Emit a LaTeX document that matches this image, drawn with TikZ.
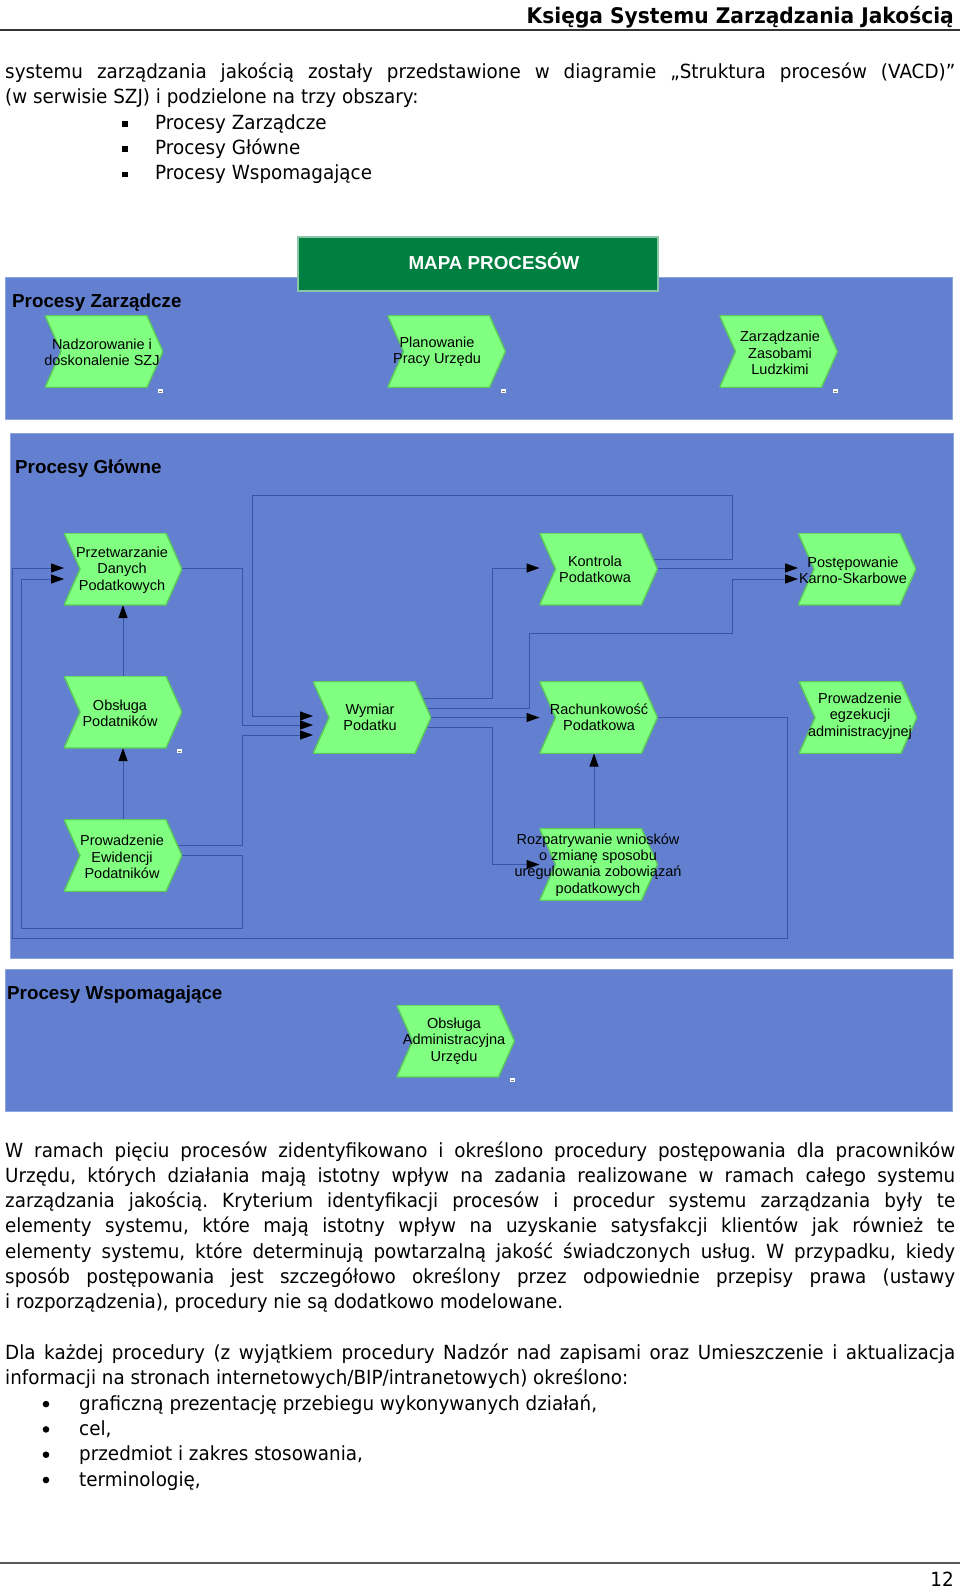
\documentclass[tikz,border=0pt]{standalone}
\usepackage{fontspec}
\setmainfont{DejaVu Sans}[FakeStretch=0.94]
\newfontfamily\arialfont{Liberation Sans}
\usetikzlibrary{calc,arrows.meta}
\pgfdeclarelayer{back}
\pgfdeclarelayer{wires}
\pgfsetlayers{back,wires,main}
\frenchspacing

\definecolor{areablue}{RGB}{98,128,207}
\definecolor{areaedge}{RGB}{140,165,225}
\definecolor{procgreen}{RGB}{128,255,128}
\definecolor{procedge}{RGB}{90,200,90}
\definecolor{mapgreen}{RGB}{0,128,64}
\definecolor{wireblue}{RGB}{58,84,165}

\newcommand\jline[1]{\makebox[950pt][s]{#1}}

\begin{document}
\begin{tikzpicture}[x=1pt,y=-1pt,
  area/.style={fill=areablue, draw=areaedge, line width=1pt},
  proc/.style={minimum width=118pt, minimum height=72pt, inner sep=0pt, outer sep=0pt,
    path picture={\filldraw[fill=procgreen, draw=procedge, line width=1.4pt]
      (path picture bounding box.north west) -- ([xshift=-16pt]path picture bounding box.north east)
      -- (path picture bounding box.east) -- ([xshift=-16pt]path picture bounding box.south east)
      -- (path picture bounding box.south west) -- ([xshift=16pt]path picture bounding box.west) -- cycle;}},
  ptxt/.style={font=\arialfont\fontsize{14.5}{16.3}\selectfont, align=center, inner sep=0pt},
  head/.style={font=\arialfont\bfseries\fontsize{18.8}{22}\selectfont, anchor=west, inner sep=0pt},
  wire/.style={draw=wireblue, line width=1pt},
  flow/.style={wire, -{Triangle[length=13pt,width=9pt,color=black]}},
  txt/.style={anchor=base west, inner sep=0pt, font=\fontsize{19.5}{25.3}\selectfont}
]
\useasboundingbox (0,0) rectangle (960,1588);

% page head
\node[anchor=base east, inner sep=0pt, font=\bfseries\fontsize{21.5}{25}\selectfont] (kstitle) at (954,23) {Księga Systemu Zarządzania Jakością};
\draw[line width=2.5pt, black!80] (0,30) -- (960,30);

\node[txt] (p1a) at (5,78.5) {\jline{systemu zarządzania jakością zostały przedstawione w diagramie „Struktura procesów (VACD)”}};
\node[txt] (p1b) at (5,103.8) {(w serwisie SZJ) i podzielone na trzy obszary:};
\node[txt] (b1) at (155,129.1) {Procesy Zarządcze};
\node[txt] (b2) at (155,154.4) {Procesy Główne};
\node[txt] (b3) at (155,179.7) {Procesy Wspomagające};
\foreach \by in {129.1,154.4,179.7}
  \fill (122,\by-8) rectangle (127.5,\by-2.5);

% areas
\begin{pgfonlayer}{back}
\filldraw[area] (5,277) rectangle (952,419);
\filldraw[area] (10,433) rectangle (953,958);
\filldraw[area] (5,969) rectangle (952,1111);
\end{pgfonlayer}

\node[fill=mapgreen, draw=mapgreen!45!white, line width=1.5pt, minimum width=360pt, minimum height=54pt, inner sep=0pt] (mapa) at (478,264) {};
\node[font=\arialfont\bfseries\fontsize{18.8}{22}\selectfont, text=white, inner sep=0pt] (mapa-t) at (494,261) {MAPA PROCESÓW};

\node[head] (zarz) at (12,302.5) {Procesy Zarządcze};
\node[head] (glow) at (15,468.5) {Procesy Główne};
\node[head] (wspo) at (7,994.5) {Procesy Wspomagające};

% Procesy Zarzadcze
\node[proc] (nadz) at (104,351.5) {};
\node[ptxt] (nadz-t) at (102,352) {Nadzorowanie i\\doskonalenie SZJ};
\node[proc] (plan) at (446.5,351.5) {};
\node[ptxt] (plan-t) at (437,352) {Planowanie\\Pracy Urzędu};
\node[proc] (zasob) at (778.5,351.5) {};
\node[ptxt] (zasob-t) at (780,353) {Zarządzanie\\Zasobami\\Ludzkimi};

% Procesy Glowne
\node[proc] (przetw) at (123,569) {};
\node[ptxt] (przetw-t) at (122,570) {Przetwarzanie\\Danych\\Podatkowych};
\node[proc] (kontrola) at (598.5,569) {};
\node[ptxt] (kontrola-t) at (595,569) {Kontrola\\Podatkowa};
\node[proc] (postep) at (857,569) {};
\node[ptxt] (postep-t) at (853,570) {Postępowanie\\Karno-Skarbowe};
\node[proc] (obsluga) at (123,712) {};
\node[ptxt] (obsluga-t) at (120,713) {Obsługa\\Podatników};
\node[proc] (wymiar) at (372,717.5) {};
\node[ptxt] (wymiar-t) at (370,717) {Wymiar\\Podatku};
\node[proc] (rachunk) at (598.5,717.5) {};
\node[ptxt] (rachunk-t) at (599,717) {Rachunkowość\\Podatkowa};
\node[proc] (egzek) at (858,717.5) {};
\node[ptxt] (egzek-t) at (860,716) {Prowadzenie\\egzekucji\\administracyjnej};
\node[proc] (ewid) at (123,855.5) {};
\node[ptxt] (ewid-t) at (122,857) {Prowadzenie\\Ewidencji\\Podatników};
\node[proc] (rozp) at (598.5,864.5) {};
\node[ptxt] (rozp-t) at (598,865) {Rozpatrywanie wniosków\\o zmianę sposobu\\uregulowania zobowiązań\\podatkowych};

% Procesy Wspomagajace
\node[proc] (obsadm) at (455.5,1041) {};
\node[ptxt] (obsadm-t) at (454,1041) {Obsługa\\Administracyjna\\Urzędu};

\foreach \ix/\iy in {160/391, 503/391, 835/391, 179/751, 512/1080} {
  \fill[white] (\ix-2.5,\iy-2) rectangle (\ix+2.5,\iy+2);
  \fill[gray] (\ix-1.5,\iy-0.5) rectangle (\ix+1.5,\iy+0.5);
}

\begin{pgfonlayer}{wires}
\draw[flow] (obsluga) -- ($(przetw)+(0,36)$);
\draw[flow] (ewid) -- ($(obsluga)+(0,36)$);
\draw[flow] ($(przetw)+(0,-1)$) -| (242,725) -- ($(wymiar)+(-59,7.5)$);
\draw[flow] ($(kontrola)+(0,-10)$) -| (732,495) -| (252,716) -- ($(wymiar)+(-59,-1.5)$);
\draw[flow] ($(ewid)+(0,-10.5)$) -| (242,735) -- ($(wymiar)+(-59,17.5)$);
\draw[flow] (ewid) -| (242,928) -| (21,579) -- ($(przetw)+(-59,10)$);
\draw[flow] (rachunk) -| (787,938) -| (12,568) -- ($(przetw)+(-59,-1)$);
\draw[flow] ($(wymiar)+(0,-19.5)$) -| (492,568) -- ($(kontrola)+(-59,-1)$);
\draw[flow] ($(wymiar)+(0,-9.5)$) -| (529,633) -| (732,579) -- ($(postep)+(-59,10)$);
\draw[flow] (wymiar) -- ($(rachunk)+(-59,0)$);
\draw[flow] ($(wymiar)+(0,9.5)$) -| (492,864.5) -- ($(rozp)+(-59,0)$);
\draw[flow] ($(kontrola)+(0,-1)$) -- ($(postep)+(-59,-1)$);
\draw[flow] ($(rozp)+(-4.5,0)$) -- ($(rachunk)+(-4.5,36)$);
\end{pgfonlayer}

% body text
\node[txt] (p2a) at (5,1157) {\jline{W ramach pięciu procesów zidentyfikowano i określono procedury postępowania dla pracowników}};
\node[txt] (p2b) at (5,1182.3) {\jline{Urzędu, których działania mają istotny wpływ na zadania realizowane w ramach całego systemu}};
\node[txt] (p2c) at (5,1207.6) {\jline{zarządzania jakością. Kryterium identyfikacji procesów i procedur systemu zarządzania były te}};
\node[txt] (p2d) at (5,1232.9) {\jline{elementy systemu, które mają istotny wpływ na uzyskanie satysfakcji klientów jak również te}};
\node[txt] (p2e) at (5,1258.2) {\jline{elementy systemu, które determinują powtarzalną jakość świadczonych usług. W przypadku, kiedy}};
\node[txt] (p2f) at (5,1283.5) {\jline{sposób postępowania jest szczegółowo określony przez odpowiednie przepisy prawa (ustawy}};
\node[txt] (p2g) at (5,1308.8) {i rozporządzenia), procedury nie są dodatkowo modelowane.};

\node[txt] (p3a) at (5,1359.5) {\jline{Dla każdej procedury (z wyjątkiem procedury Nadzór nad zapisami oraz Umieszczenie i aktualizacja}};
\node[txt] (p3b) at (5,1384.8) {informacji na stronach internetowych/BIP/intranetowych) określono:};
\node[txt] (c1) at (79,1410.1) {graficzną prezentację przebiegu wykonywanych działań,};
\node[txt] (c2) at (79,1435.4) {cel,};
\node[txt] (c3) at (79,1460.7) {przedmiot i zakres stosowania,};
\node[txt] (c4) at (79,1486) {terminologię,};
\foreach \by in {1410.1,1435.4,1460.7,1486}
  \fill (46,\by-6) circle (3.3);

% page foot
\draw[line width=2pt, black!65] (0,1563) -- (960,1563);
\node[anchor=base east, inner sep=0pt, font=\fontsize{19.5}{22}\selectfont] (pnum) at (954,1586) {12};
\end{tikzpicture}
\end{document}
